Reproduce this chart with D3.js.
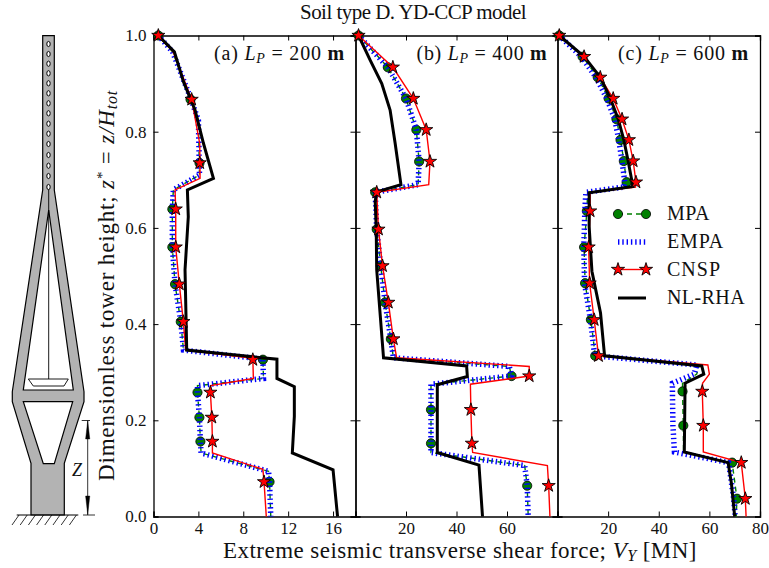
<!DOCTYPE html>
<html>
<head>
<meta charset="utf-8">
<script src="https://cdn.jsdelivr.net/npm/d3@7"></script>
<style>
html, body { margin: 0; padding: 0; background: #fff; }
svg { display: block; }
text { font-family: "Liberation Serif", serif; fill: #111; }
</style>
</head>
<body>
<div id="chart"></div>
<script>
// panel (a) L_P = 200 m
var aMpaX = [0.43, 1.7, 3.3, 4.0, 4.1, 1.77, 1.68, 1.68, 1.92, 2.43, 2.67, 9.75, 9.8, 3.92, 3.92, 4.09, 4.18, 4.24, 10.25, 10.34, 10.45];
var aMpaZ = [1, 0.966, 0.87, 0.824, 0.71, 0.679, 0.64, 0.56, 0.483, 0.405, 0.346, 0.327, 0.287, 0.272, 0.258, 0.206, 0.156, 0.132, 0.094, 0.072, 0];
var aCnspX = [0.43, 1.75, 3.4, 4.12, 4.15, 1.92, 1.98, 1.98, 2.3, 2.66, 2.87, 8.85, 8.9, 5.1, 5.07, 5.2, 5.25, 5.25, 9.75, 9.85, 10.05];
var aCnspZ = [1, 0.966, 0.867, 0.775, 0.703, 0.679, 0.639, 0.56, 0.483, 0.405, 0.346, 0.329, 0.287, 0.272, 0.258, 0.206, 0.156, 0.132, 0.098, 0.072, 0];
var aRhaX = [0.43, 1.86, 2.67, 3.7, 4.45, 5.34, 3.02, 3.1, 2.81, 2.96, 11.0, 11.0, 12.55, 12.55, 12.37, 16.0, 16.4];
var aRhaZ = [1, 0.966, 0.904, 0.845, 0.776, 0.703, 0.679, 0.623, 0.513, 0.346, 0.327, 0.287, 0.27, 0.208, 0.132, 0.097, 0];
var aMarkMpaX = [0.43, 3.3, 4.1, 1.68, 1.68, 1.92, 2.43, 9.75, 3.92, 4.09, 4.18, 10.34];
var aMarkCnspX = [0.43, 3.4, 4.12, 1.98, 1.98, 2.3, 2.66, 8.85, 5.07, 5.2, 5.25, 9.85];
var aMarkZ = [1, 0.867, 0.735, 0.639, 0.56, 0.483, 0.405, 0.326, 0.258, 0.206, 0.156, 0.072];

// panel (b) L_P = 400 m
var bMpaX = [1.2, 12.8, 20, 24.1, 25.2, 24.8, 7.8, 8.4, 10, 11.7, 14, 15, 60.9, 61.8, 29.9, 29.9, 29.9, 29.9, 67, 68, 68.4];
var bMpaZ = [1, 0.934, 0.869, 0.804, 0.738, 0.69, 0.674, 0.597, 0.521, 0.445, 0.369, 0.33, 0.312, 0.292, 0.275, 0.222, 0.152, 0.133, 0.106, 0.064, 0];
var bCnspX = [1.2, 14.8, 22.9, 28, 29.5, 29, 8.4, 9.1, 10.7, 13, 15, 16.3, 68.8, 68.8, 45.5, 45.7, 46.1, 46.4, 76, 76.5, 77];
var bCnspZ = bMpaZ;
var bRhaX = [1.2, 5.8, 10.4, 13.7, 15.7, 18, 8.4, 7.8, 8.2, 8.4, 11.1, 44, 44.3, 32.4, 32.4, 32.4, 48.9, 50.3];
var bRhaZ = [1, 0.949, 0.9, 0.845, 0.776, 0.69, 0.675, 0.655, 0.6, 0.513, 0.33, 0.313, 0.291, 0.274, 0.2, 0.133, 0.107, 0];
var bMarkMpaX = [1.2, 12.8, 20, 24.1, 25.2, 7.8, 8.4, 10, 11.7, 14, 61.8, 29.9, 29.9, 68];
var bMarkCnspX = [1.2, 14.8, 22.9, 28, 29.5, 8.4, 9.1, 10.7, 13, 15, 68.8, 45.7, 46.1, 76.5];
var bMarkZ = [1, 0.934, 0.869, 0.804, 0.738, 0.674, 0.597, 0.521, 0.445, 0.369, 0.292, 0.222, 0.152, 0.064];

// panel (c) L_P = 600 m
var cMpaX = [0.7, 9.9, 15.9, 20.2, 23.3, 24.9, 26.2, 27.3, 26.9, 11.9, 11.6, 10.5, 10.9, 13.2, 14.9, 56, 55, 49.4, 49.4, 49.7, 49.8, 69, 70.9, 70.6];
var cMpaZ = [1, 0.956, 0.913, 0.869, 0.826, 0.783, 0.739, 0.695, 0.685, 0.674, 0.635, 0.56, 0.485, 0.409, 0.334, 0.315, 0.296, 0.277, 0.26, 0.189, 0.134, 0.112, 0.037, 0];
var cEmpaX = [0.7, 9.4, 15.2, 19.5, 22.6, 24.2, 25.5, 26.6, 26.2, 11.2, 10.8, 10.4, 10.7, 13, 14.7, 55, 54, 45.4, 45.4, 45.6, 46.2, 67.6, 69.6, 70.2];
var cCnspX = [0.7, 10.5, 16.9, 22, 25.5, 28.2, 29.9, 31, 30.8, 12.9, 12.9, 12.3, 12.7, 14.5, 16.2, 59.4, 60, 57.3, 57.2, 57.6, 57.6, 72.6, 74.2, 74.5];
var cCnspZ = cMpaZ;
var cRhaX = [0.7, 10.5, 16.9, 20.9, 24, 26.2, 27.9, 29.8, 12.5, 12.5, 13.6, 14.3, 17, 18.6, 57, 57.8, 50.4, 50.1, 67.4, 68.7, 70];
var cRhaZ = [1, 0.956, 0.913, 0.869, 0.826, 0.783, 0.739, 0.686, 0.673, 0.603, 0.51, 0.492, 0.423, 0.334, 0.313, 0.296, 0.277, 0.134, 0.112, 0.069, 0];
var cMarkMpaX = [0.7, 9.9, 15.9, 20.2, 23.3, 24.9, 26.2, 27.3, 11.6, 10.5, 10.9, 13.2, 14.9, 49.4, 49.7, 69, 70.9];
var cMarkCnspX = [0.7, 10.5, 16.9, 22, 25.5, 28.2, 29.9, 31, 12.9, 12.3, 12.7, 14.5, 16.2, 57.2, 57.6, 72.6, 74.2];
var cMarkZ = [1, 0.956, 0.913, 0.869, 0.826, 0.783, 0.739, 0.695, 0.635, 0.56, 0.485, 0.409, 0.334, 0.26, 0.189, 0.112, 0.037];

var zTicks = [0, 0.2, 0.4, 0.6, 0.8, 1.0];
var legendLabels = ["MPA", "EMPA", "CNSP", "NL-RHA"];

var panels = [
  {left: 153.5, right: 355.5, xMax: 18, ticks: [0, 4, 8, 12, 16], name: "(a) ", lp: "200", textX: 214,
   mpaX: aMpaX, mpaZ: aMpaZ, empaX: aMpaX, cnspX: aCnspX, cnspZ: aCnspZ, rhaX: aRhaX, rhaZ: aRhaZ,
   markMpaX: aMarkMpaX, markCnspX: aMarkCnspX, markZ: aMarkZ},
  {left: 355.5, right: 557.5, xMax: 80, ticks: [20, 40, 60], name: "(b) ", lp: "400", textX: 416.5,
   mpaX: bMpaX, mpaZ: bMpaZ, empaX: bMpaX, cnspX: bCnspX, cnspZ: bCnspZ, rhaX: bRhaX, rhaZ: bRhaZ,
   markMpaX: bMarkMpaX, markCnspX: bMarkCnspX, markZ: bMarkZ},
  {left: 557.5, right: 760, xMax: 80, ticks: [20, 40, 60, 80], name: "(c) ", lp: "600", textX: 618,
   mpaX: cMpaX, mpaZ: cMpaZ, empaX: cEmpaX, cnspX: cCnspX, cnspZ: cCnspZ, rhaX: cRhaX, rhaZ: cRhaZ,
   markMpaX: cMarkMpaX, markCnspX: cMarkCnspX, markZ: cMarkZ}
];

var plotTop = 35.5, plotBottom = 516.5;

var svg = d3.select("#chart").append("svg")
  .attr("width", 769)
  .attr("height", 568);

var y = d3.scaleLinear().domain([0, 1]).range([plotBottom, plotTop]);

var starPath = d3.symbol().type(d3.symbolStar).size(54)();

// stretch a label to the width it has in the picture
function fit(sel, width) {
  var n = sel.text().length;
  var len = sel.node().getComputedTextLength();
  sel.style("letter-spacing", ((width - len) / n) + "px");
}

function circleMark(g, px, py) {
  g.append("circle").attr("cx", px).attr("cy", py).attr("r", 4.6)
    .attr("fill", "#008000").attr("stroke", "#000").attr("stroke-width", 0.8);
}
function starMark(g, px, py) {
  g.append("path").attr("d", starPath).attr("transform", "translate(" + px + "," + py + ")")
    .attr("fill", "#ff0000").attr("stroke", "#000").attr("stroke-width", 0.9);
}
function lineStyle(sel, kind) {
  sel.attr("fill", "none");
  if (kind == "mpa") sel.attr("stroke", "#008000").attr("stroke-width", 1.4).attr("stroke-dasharray", "5,4");
  if (kind == "empa") sel.attr("stroke", "#0000ff").attr("stroke-width", 5.5).attr("stroke-dasharray", "1.4,2.9");
  if (kind == "cnsp") sel.attr("stroke", "#ff0000").attr("stroke-width", 1.4);
  if (kind == "rha") sel.attr("stroke", "#000").attr("stroke-width", 3).attr("stroke-linejoin", "miter");
}

panels.forEach(function(p, i) {
  var x = d3.scaleLinear().domain([0, p.xMax]).range([p.left, p.right]);
  var g = svg.append("g");

  // axes, ticks point inward on all four sides
  var bottomAxis = d3.axisBottom(x).tickValues(p.ticks).tickSize(-5).tickPadding(5).tickFormat(d3.format("d"));
  var topAxis = d3.axisTop(x).tickValues(p.ticks).tickSize(-5).tickFormat("");
  var leftAxis = d3.axisLeft(y).tickValues(zTicks).tickSize(-5).tickPadding(7).tickFormat(i == 0 ? d3.format(".1f") : "");
  var rightAxis = d3.axisRight(y).tickValues(zTicks).tickSize(-5).tickFormat("");
  [
    g.append("g").attr("transform", "translate(0," + plotBottom + ")").call(bottomAxis),
    g.append("g").attr("transform", "translate(0," + plotTop + ")").call(topAxis),
    g.append("g").attr("transform", "translate(" + p.left + ",0)").call(leftAxis),
    g.append("g").attr("transform", "translate(" + p.right + ",0)").call(rightAxis)
  ].forEach(function(ax) {
    ax.selectAll("path").attr("stroke", "#000").attr("stroke-width", 1.3);
    ax.selectAll("line").attr("stroke", "#000").attr("stroke-width", 1);
    ax.selectAll("text").attr("font-size", 17).attr("font-family", "Liberation Serif").attr("fill", "#111");
  });

  var line = d3.line()
    .x(function(d) { return x(d[0]); })
    .y(function(d) { return y(d[1]); });

  g.append("path").datum(d3.zip(p.mpaX, p.mpaZ)).attr("d", line).call(lineStyle, "mpa");
  p.markZ.forEach(function(z, k) { circleMark(g, x(p.markMpaX[k]), y(z)); });
  g.append("path").datum(d3.zip(p.empaX, p.mpaZ)).attr("d", line).call(lineStyle, "empa");
  g.append("path").datum(d3.zip(p.cnspX, p.cnspZ)).attr("d", line).call(lineStyle, "cnsp");
  g.append("path").datum(d3.zip(p.rhaX, p.rhaZ)).attr("d", line).call(lineStyle, "rha");
  p.markZ.forEach(function(z, k) { starMark(g, x(p.markCnspX[k]), y(z)); });

  // panel note
  var note = svg.append("text").attr("x", p.textX).attr("y", 60).attr("font-size", 20);
  note.append("tspan").text(p.name);
  note.append("tspan").attr("font-style", "italic").text("L");
  note.append("tspan").attr("font-style", "italic").attr("font-size", 14).attr("dy", 3).text("P");
  note.append("tspan").attr("dy", -3).text(" = " + p.lp + " ");
  note.append("tspan").attr("font-weight", "bold").text("m");
  fit(note, 131);
});

// legend
var legendY = [214, 242, 269.5, 298];
var legendWidth = [43, 57, 54, 78];
var legendKinds = ["mpa", "empa", "cnsp", "rha"];
legendLabels.forEach(function(label, i) {
  var g = svg.append("g");
  g.append("line").attr("x1", 618).attr("x2", 646).attr("y1", legendY[i]).attr("y2", legendY[i])
    .call(lineStyle, legendKinds[i]);
  if (i == 0) { circleMark(g, 618, legendY[i]); circleMark(g, 646, legendY[i]); }
  if (i == 2) { starMark(g, 618, legendY[i]); starMark(g, 646, legendY[i]); }
  var t = g.append("text").attr("x", 667).attr("y", legendY[i] + 6).attr("font-size", 20).text(label);
  fit(t, legendWidth[i]);
});

// titles
var title = svg.append("text").attr("x", 300).attr("y", 19).attr("font-size", 21).text("Soil type D. YD-CCP model");
fit(title, 226);

var xlab = svg.append("text").attr("x", 223).attr("y", 558).attr("font-size", 23);
xlab.append("tspan").text("Extreme seismic transverse shear force; ");
xlab.append("tspan").attr("font-style", "italic").text("V");
xlab.append("tspan").attr("font-style", "italic").attr("font-size", 16).attr("dy", 3).text("Y");
xlab.append("tspan").attr("dy", -3).text(" [MN]");
fit(xlab, 474);

var ylab = svg.append("text").attr("transform", "translate(114,481) rotate(-90)").attr("font-size", 23);
ylab.append("tspan").text("Dimensionless tower height; ");
ylab.append("tspan").attr("font-style", "italic").text("z");
ylab.append("tspan").attr("font-size", 15).attr("dy", -7).text("*");
ylab.append("tspan").attr("dy", 7).text(" = ");
ylab.append("tspan").attr("font-style", "italic").text("z/H");
ylab.append("tspan").attr("font-style", "italic").attr("font-size", 16).attr("dy", 3).text("tot");
fit(ylab, 391);

// tower sketch on the left
var grey = "#b3b3b3";
var sketch = svg.append("g").attr("stroke", "#000").attr("stroke-width", 1.2);
sketch.append("path").attr("fill", grey)
  .attr("d", "M42.7,35.7 L54.3,35.7 L54.3,190 L84,391.7 L84,401.7 L64.3,463.3 L64.3,515 L31,515 L31,463.3 L12.3,401.7 L12.3,391.7 L42.7,190 Z");
sketch.append("path").attr("fill", "#fff").attr("d", "M48.7,210 L73.3,390 L23.3,390 Z");
sketch.append("path").attr("fill", "#fff").attr("d", "M23.3,401.7 L72.7,401.7 L54.3,463.7 L43.3,463.7 Z");
sketch.append("path").attr("fill", "none").attr("stroke-width", 0.9).attr("d", "M48.7,187 L48.7,379");
sketch.append("path").attr("fill", "#fff").attr("stroke-width", 0.9).attr("d", "M28.3,379 L68.3,379 L64,386 L33.3,386 Z");

var holeY = [44, 54, 63.7, 73.3, 83.3, 93.3, 103.3, 113.3, 123.7, 133.7, 144, 155, 165.7, 176, 187];
holeY.forEach(function(h) {
  sketch.append("ellipse").attr("cx", 48.5).attr("cy", h).attr("rx", 1.7).attr("ry", 2.6)
    .attr("fill", "#fff").attr("stroke-width", 1);
});

sketch.append("path").attr("fill", "none").attr("d", "M16.7,515 L78.3,515");
d3.range(8).forEach(function(k) {
  var hx = 19 + k * 8.2;
  sketch.append("path").attr("fill", "none").attr("stroke-width", 0.8)
    .attr("d", "M" + hx + ",515 L" + (hx - 7) + ",525");
});

// Z dimension
sketch.append("path").attr("fill", "none").attr("stroke-width", 0.8)
  .attr("d", "M81.7,420.5 L90,420.5 M87.7,420.5 L87.7,515 M83,515 L95,515");
sketch.append("path").attr("fill", "#000").attr("stroke-width", 0.4).attr("d", "M87.7,421 L89.8,439 L85.6,439 Z");
sketch.append("path").attr("fill", "#000").attr("stroke-width", 0.4).attr("d", "M87.7,514.5 L89.8,496 L85.6,496 Z");
svg.append("text").attr("x", 77).attr("y", 476).attr("text-anchor", "middle")
  .attr("font-size", 18).attr("font-style", "italic").text("Z");
</script>
</body>
</html>
